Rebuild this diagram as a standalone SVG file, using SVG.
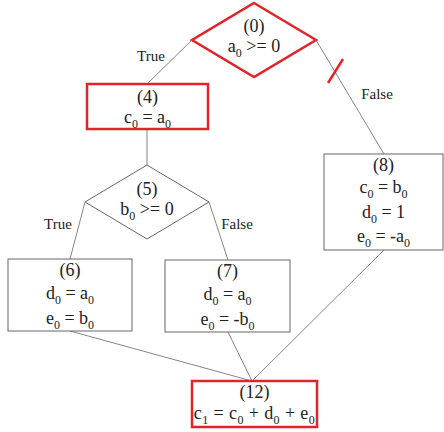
<svg xmlns="http://www.w3.org/2000/svg" width="444" height="432" viewBox="0 0 444 432">
<style>
text{font-family:'Liberation Serif','DejaVu Serif','Times New Roman',serif;font-size:18px;fill:#222;text-anchor:middle}
.lbl{font-size:15px}
.s{font-size:12px}
.hot{fill:#fff;stroke:#e0242a;stroke-width:2.5}
.box{fill:#fff;stroke:#666;stroke-width:1}
.edge{stroke:#666;stroke-width:0.8;fill:none}
.cut{stroke:#e0242a;stroke-width:2.5}
</style>
<rect width="444" height="432" fill="#fff"/>
<g id="connectors">
<line class="edge" x1="192" y1="40" x2="147" y2="84"/>
<line class="edge" x1="316" y1="40" x2="384" y2="154"/>
<line class="cut" x1="328" y1="83" x2="343" y2="59"/>
<line class="edge" x1="147" y1="129" x2="147" y2="165"/>
<line class="edge" x1="85" y1="202" x2="70" y2="259"/>
<line class="edge" x1="209" y1="202" x2="228" y2="260"/>
<line class="edge" x1="70" y1="331" x2="252" y2="381"/>
<line class="edge" x1="228" y1="332" x2="252" y2="381"/>
<line class="edge" x1="384" y1="250" x2="252" y2="381"/>
<text class="lbl" x="151" y="61">True</text>
<text class="lbl" x="377" y="99">False</text>
<text class="lbl" x="58" y="229">True</text>
<text class="lbl" x="237" y="229">False</text>
</g>
<g id="n0">
<polygon class="hot" points="254,3 316,40 254,77 192,40"/>
<text x="254" y="32">(0)</text>
<text x="254" y="52">a<tspan class="s" dy="5">0</tspan><tspan dy="-5"> &gt;= 0</tspan></text>
</g>
<g id="n4">
<rect class="hot" x="87" y="84" width="121" height="45"/>
<text x="147.5" y="103">(4)</text>
<text x="147.5" y="123">c<tspan class="s" dy="5">0</tspan><tspan dy="-5"> = a</tspan><tspan class="s" dy="5">0</tspan></text>
</g>
<g id="n5">
<polygon class="box" points="147,165 209,202 147,239 85,202"/>
<text x="147" y="195">(5)</text>
<text x="147" y="215">b<tspan class="s" dy="5">0</tspan><tspan dy="-5"> &gt;= 0</tspan></text>
</g>
<g id="n6">
<rect class="box" x="8" y="259" width="124" height="72"/>
<text x="70" y="276">(6)</text>
<text x="70" y="299">d<tspan class="s" dy="5">0</tspan><tspan dy="-5"> = a</tspan><tspan class="s" dy="5">0</tspan></text>
<text x="70" y="324">e<tspan class="s" dy="5">0</tspan><tspan dy="-5"> = b</tspan><tspan class="s" dy="5">0</tspan></text>
</g>
<g id="n7">
<rect class="box" x="165" y="260" width="125" height="72"/>
<text x="227.5" y="277">(7)</text>
<text x="227.5" y="300">d<tspan class="s" dy="5">0</tspan><tspan dy="-5"> = a</tspan><tspan class="s" dy="5">0</tspan></text>
<text x="227.5" y="325">e<tspan class="s" dy="5">0</tspan><tspan dy="-5"> = -b</tspan><tspan class="s" dy="5">0</tspan></text>
</g>
<g id="n8">
<rect class="box" x="324" y="154" width="119" height="96"/>
<text x="383.5" y="171">(8)</text>
<text x="383.5" y="193">c<tspan class="s" dy="5">0</tspan><tspan dy="-5"> = b</tspan><tspan class="s" dy="5">0</tspan></text>
<text x="383.5" y="218">d<tspan class="s" dy="5">0</tspan><tspan dy="-5"> = 1</tspan></text>
<text x="383.5" y="242">e<tspan class="s" dy="5">0</tspan><tspan dy="-5"> = -a</tspan><tspan class="s" dy="5">0</tspan></text>
</g>
<g id="n12">
<rect class="hot" x="192" y="381" width="125" height="46"/>
<text x="254.5" y="398">(12)</text>
<text x="254.5" y="419" letter-spacing="0.4">c<tspan class="s" dy="5">1</tspan><tspan dy="-5"> = c</tspan><tspan class="s" dy="5">0</tspan><tspan dy="-5"> + d</tspan><tspan class="s" dy="5">0</tspan><tspan dy="-5"> + e</tspan><tspan class="s" dy="5">0</tspan></text>
</g>
</svg>
